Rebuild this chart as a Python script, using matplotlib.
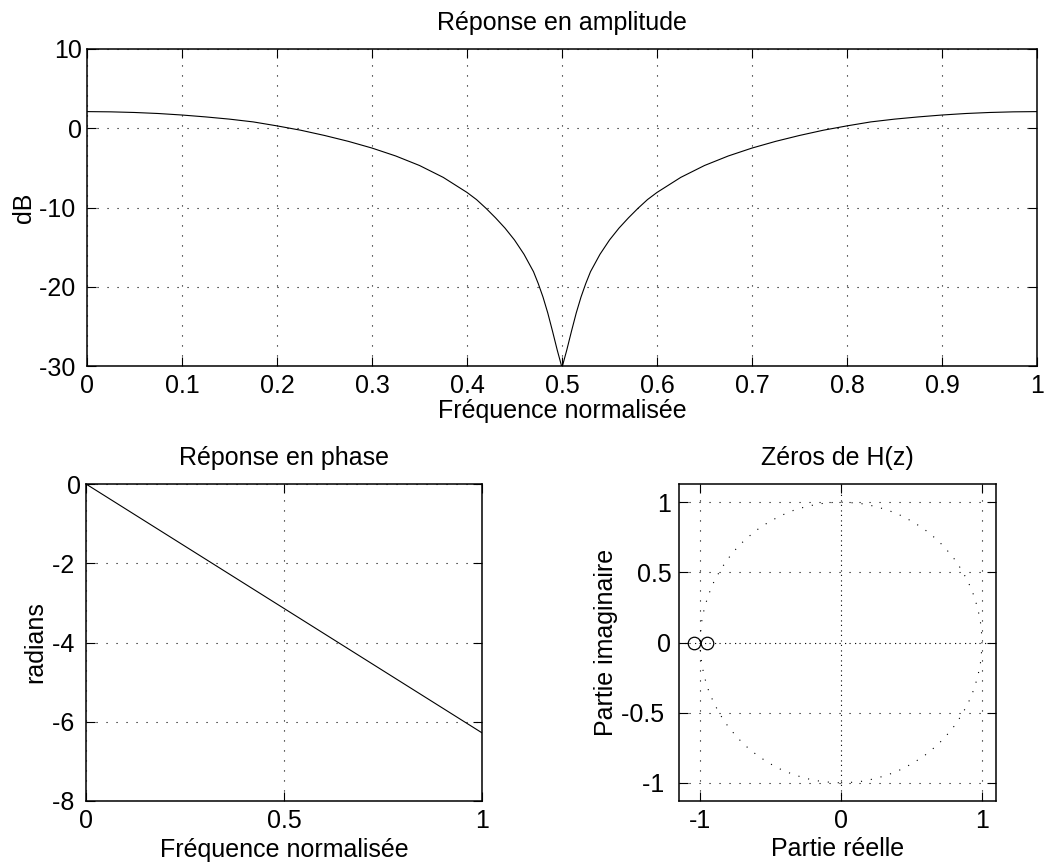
import matplotlib
matplotlib.use("Agg")
import matplotlib.pyplot as plt
from matplotlib.patches import Circle

plt.rcParams['font.family'] = ['Liberation Sans', 'DejaVu Sans']
plt.rcParams['font.size'] = 18
plt.rcParams['axes.unicode_minus'] = False

# Amplitude response (dB)
freq_amp = [0.0, 0.025, 0.05, 0.075, 0.1, 0.125, 0.15, 0.175, 0.2, 0.225, 0.25, 0.275,
            0.3, 0.325, 0.35, 0.375, 0.4, 0.41, 0.42, 0.43, 0.44, 0.45, 0.46, 0.47,
            0.475, 0.48, 0.485, 0.49, 0.495, 0.5,
            0.505, 0.51, 0.515, 0.52, 0.525, 0.53, 0.54, 0.55, 0.56, 0.57, 0.58, 0.59,
            0.6, 0.625, 0.65, 0.675, 0.7, 0.725, 0.75, 0.775, 0.8, 0.825, 0.85, 0.875,
            0.9, 0.925, 0.95, 0.975, 1.0]
amp_db = [2.10, 2.07, 1.99, 1.86, 1.67, 1.43, 1.15, 0.80, 0.30, -0.25, -0.91, -1.65,
          -2.5, -3.5, -4.7, -6.2, -8.1, -9.0, -10.1, -11.3, -12.6, -14.1, -15.9, -18.1,
          -19.6, -21.3, -23.3, -25.6, -28.0, -30.2,
          -28.0, -25.6, -23.3, -21.3, -19.6, -18.1, -15.9, -14.1, -12.6, -11.3, -10.1, -9.0,
          -8.1, -6.2, -4.7, -3.5, -2.5, -1.65, -0.91, -0.25, 0.30, 0.80, 1.15, 1.43,
          1.67, 1.86, 1.99, 2.07, 2.10]

# Phase response (radians)
freq_phase = [0.0, 0.5, 1.0]
phase_rad = [0.0, -3.14, -6.28]

# Zeros of H(z)
zeros_re = [-1.045, -0.952]
zeros_im = [0.0, 0.0]

amp_xticks = [0, 0.1, 0.2, 0.3, 0.4, 0.5, 0.6, 0.7, 0.8, 0.9, 1]
amp_xticklabels = ['0', '0.1', '0.2', '0.3', '0.4', '0.5', '0.6', '0.7', '0.8', '0.9', '1']
amp_yticks = [-30, -20, -10, 0, 10]
amp_yticklabels = ['-30 ', '-20 ', '-10 ', '0', '10']
phase_xticks = [0, 0.5, 1]
phase_xticklabels = ['0', '0.5', '1']
phase_yticks = [-8, -6, -4, -2, 0]
phase_yticklabels = ['-8 ', '-6 ', '-4 ', '-2 ', '0']
zero_xticks = [-1, 0, 1]
zero_xticklabels = ['-1', '0', '1']
zero_yticks = [-1, -0.5, 0, 0.5, 1]
zero_yticklabels = ['-1 ', '-0.5 ', '0', '0.5', '1']

W, H = 1045, 868
fig = plt.figure(figsize=(W / 100, H / 100), dpi=100)

def rect(l, t, r, b):
    return [l / W, 1 - b / H, (r - l) / W, (b - t) / H]

grid_kw = dict(color='black', linestyle=(0, (1, 8)), linewidth=0.8)

def style(ax, ypad):
    ax.tick_params(direction='in', length=6.5, width=0.8, top=True, right=True,
                   labelsize=18)
    ax.tick_params(axis='x', pad=6)
    ax.tick_params(axis='y', pad=ypad)
    for s in ax.spines.values():
        s.set_linewidth(1.1)
    ax.grid(True, **grid_kw)
    ax.set_axisbelow(False)

# --- amplitude ---
ax1 = fig.add_axes(rect(87, 49, 1037, 366))
ax1.plot(freq_amp, amp_db, color='black', linewidth=0.8)
ax1.set_xlim(0, 1)
ax1.set_ylim(-30, 10)
ax1.set_xticks(amp_xticks)
ax1.set_xticklabels(amp_xticklabels)
ax1.set_yticks(amp_yticks)
ax1.set_yticklabels(amp_yticklabels)
ax1.set_title('Réponse en amplitude', fontsize=18, pad=14)
ax1.set_xlabel('Fréquence normalisée', fontsize=18)
ax1.set_ylabel('dB', fontsize=18)
ax1.xaxis.set_label_coords(0.5, -0.104)
ax1.yaxis.set_label_coords(-0.0537, 0.5)
style(ax1, 3.5)

# --- phase ---
ax2 = fig.add_axes(rect(86, 484, 482, 801))
ax2.plot(freq_phase, phase_rad, color='black', linewidth=0.8)
ax2.set_xlim(0, 1)
ax2.set_ylim(-8, 0)
ax2.set_xticks(phase_xticks)
ax2.set_xticklabels(phase_xticklabels)
ax2.set_yticks(phase_yticks)
ax2.set_yticklabels(phase_yticklabels)
ax2.set_title('Réponse en phase', fontsize=18, pad=14)
ax2.set_xlabel('Fréquence normalisée', fontsize=18)
ax2.set_ylabel('radians', fontsize=18)
ax2.xaxis.set_label_coords(0.5, -0.1167)
ax2.yaxis.set_label_coords(-0.0985, 0.5)
style(ax2, 3.5)

# --- zeros ---
ax3 = fig.add_axes(rect(679, 484, 996, 801))
ax3.add_patch(Circle((0, 0), 1, fill=False, edgecolor='black',
                     linestyle=(0, (1, 8)), linewidth=0.8))
ax3.axhline(0, color='black', linestyle=(4, (1, 8)), linewidth=0.8)
ax3.axvline(0, color='black', linestyle=(4, (1, 8)), linewidth=0.8)
ax3.plot(zeros_re, zeros_im, linestyle='none', marker='o', markersize=9,
         markerfacecolor='none', markeredgecolor='black', markeredgewidth=0.9)
ax3.set_xlim(-1.15, 1.1)
ax3.set_ylim(-1.13, 1.13)
ax3.set_xticks(zero_xticks)
ax3.set_xticklabels(zero_xticklabels)
ax3.set_yticks(zero_yticks)
ax3.set_yticklabels(zero_yticklabels)
ax3.set_title('Zéros de H(z)', fontsize=18, pad=14)
ax3.set_xlabel('Partie réelle', fontsize=18)
ax3.set_ylabel('Partie imaginaire', fontsize=18)
ax3.xaxis.set_label_coords(0.5, -0.1136)
ax3.yaxis.set_label_coords(-0.192, 0.5)
style(ax3, 5.5)

fig.savefig('out.png', dpi=100)
